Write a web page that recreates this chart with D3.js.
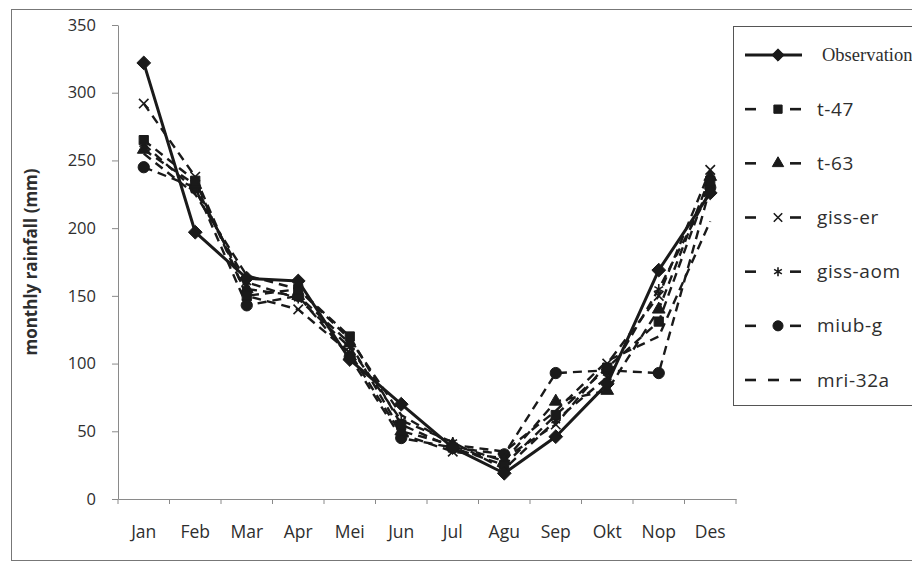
<!DOCTYPE html>
<html>
<head>
<meta charset="utf-8">
<script src="https://cdn.jsdelivr.net/npm/d3@7"></script>
<style>
  html, body { margin: 0; padding: 0; background: #fff; }
  svg { display: block; }
</style>
</head>
<body>
<svg id="chart" width="912" height="567"></svg>
<script>
// Monthly rainfall (mm): observed and modelled series
const months = ["Jan", "Feb", "Mar", "Apr", "Mei", "Jun", "Jul", "Agu", "Sep", "Okt", "Nop", "Des"];
const yTicks = [0, 50, 100, 150, 200, 250, 300, 350];

const observation = [322, 197, 163, 161, 103, 70, 38, 19, 46, 85, 169, 226];
const t47        = [265, 235, 150, 155, 120, 55, 38, 25, 62, 97, 131, 235];
const t63        = [258, 232, 155, 150, 115, 50, 40, 28, 72, 80, 140, 238];
const gissEr     = [292, 238, 150, 140, 108, 48, 35, 30, 55, 100, 150, 243];
const gissAom    = [262, 228, 160, 148, 112, 58, 42, 22, 58, 90, 155, 228];
const miubG      = [245, 230, 143, 150, 105, 45, 38, 33, 93, 95, 93, 230];
const mri32a     = [255, 225, 165, 155, 118, 62, 40, 35, 65, 102, 120, 205];

const seriesNames = ["Observation", "t-47", "t-63", "giss-er", "giss-aom", "miub-g", "mri-32a"];

// Diamond drawn as a square turned by 45 degrees
const diamond = { draw(ctx, size) { const r = Math.sqrt(size / 2); ctx.moveTo(0, -r); ctx.lineTo(r, 0); ctx.lineTo(0, r); ctx.lineTo(-r, 0); ctx.closePath(); } };

const series = [
  { name: seriesNames[0], values: observation, symbol: diamond,          size: 95,  stroke: false, dash: null,  width: 3 },
  { name: seriesNames[1], values: t47,         symbol: d3.symbolSquare,   size: 85,  stroke: false, dash: "9,6", width: 2.4 },
  { name: seriesNames[2], values: t63,         symbol: d3.symbolTriangle, size: 70,  stroke: false, dash: "9,6", width: 2.4 },
  { name: seriesNames[3], values: gissEr,      symbol: d3.symbolX,        size: 60,  stroke: true,  dash: "9,6", width: 2.4 },
  { name: seriesNames[4], values: gissAom,     symbol: d3.symbolAsterisk, size: 70,  stroke: true,  dash: "9,6", width: 2.4 },
  { name: seriesNames[5], values: miubG,       symbol: d3.symbolCircle,   size: 100, stroke: false, dash: "9,6", width: 2.4 },
  { name: seriesNames[6], values: mri32a,      symbol: null,              size: 0,   stroke: false, dash: "9,6", width: 2.4 }
];

const ink = "#1a1a1a";
const axisColor = "#8a8a8a";
const textColor = "#2e2e2e";
const sansFont = "'Open Sans', Lato, sans-serif";

const svg = d3.select("#chart");

// Outer frame
svg.append("rect")
  .attr("x", 11.5).attr("y", 9.5)
  .attr("width", 912).attr("height", 551)
  .attr("fill", "none").attr("stroke", "#777").attr("stroke-width", 1);

const x = d3.scaleBand().domain(months).range([118, 736]).padding(0);
const y = d3.scaleLinear().domain([0, 350]).range([499, 25]);

// Y axis
const yAxis = svg.append("g")
  .attr("transform", "translate(118,0)")
  .call(d3.axisLeft(y).tickValues(yTicks).tickSize(6).tickSizeOuter(0).tickPadding(16));
yAxis.select(".domain").attr("stroke", axisColor);
yAxis.selectAll(".tick line").attr("stroke", axisColor);
yAxis.selectAll(".tick text")
  .attr("fill", textColor)
  .style("font-family", sansFont)
  .style("font-size", "16.5px");

// X axis: labels centred in each month band, tick marks on band edges
const xAxis = svg.append("g")
  .attr("transform", `translate(0,${y(0)})`)
  .call(d3.axisBottom(x).tickSize(0).tickPadding(27));
xAxis.select(".domain").attr("stroke", axisColor);
xAxis.selectAll(".tick text")
  .attr("fill", textColor)
  .style("font-family", sansFont)
  .style("font-size", "17.5px");

const edges = months.map(m => x(m)).concat([x(months[months.length - 1]) + x.bandwidth()]);
xAxis.selectAll("line.edge")
  .data(edges)
  .join("line")
  .attr("class", "edge")
  .attr("x1", d => d).attr("x2", d => d)
  .attr("y1", 0).attr("y2", 5)
  .attr("stroke", axisColor);

// Y axis title
svg.append("text")
  .attr("transform", `translate(37,${(y(0) + y(350)) / 2}) rotate(-90)`)
  .attr("text-anchor", "middle")
  .attr("fill", textColor)
  .style("font-family", sansFont)
  .style("font-size", "17px")
  .style("font-weight", "bold")
  .text("monthly rainfall (mm)");

// Series lines and markers (drawn back to front so observation sits on top)
const line = d3.line()
  .x((d, i) => x(months[i]) + x.bandwidth() / 2)
  .y(d => y(d));

const plot = svg.append("g");
series.slice().reverse().forEach(s => {
  const g = plot.append("g");
  g.append("path")
    .datum(s.values)
    .attr("d", line)
    .attr("fill", "none")
    .attr("stroke", ink)
    .attr("stroke-width", s.width)
    .attr("stroke-dasharray", s.dash)
    .attr("stroke-linejoin", "round");
  if (s.symbol) {
    g.selectAll("path.mark")
      .data(s.values)
      .join("path")
      .attr("class", "mark")
      .attr("transform", (d, i) => `translate(${x(months[i]) + x.bandwidth() / 2},${y(d)})`)
      .attr("d", d3.symbol(s.symbol, s.size))
      .attr("fill", s.stroke ? "none" : ink)
      .attr("stroke", ink)
      .attr("stroke-width", s.stroke ? 1.6 : 1);
  }
});

// Legend
const legend = svg.append("g");
legend.append("rect")
  .attr("x", 733.5).attr("y", 26.5)
  .attr("width", 200).attr("height", 379)
  .attr("fill", "#fff").attr("stroke", "#555").attr("stroke-width", 1);

const rowY = d3.scaleLinear().domain([0, 6]).range([55, 380]);
series.forEach((s, i) => {
  const cy = rowY(i);
  const row = legend.append("g");
  if (s.dash) {
    const dashes = s.symbol ? [[745, 756], [790, 801]] : [[745, 756], [768, 779], [790, 801]];
    dashes.forEach(([a, b]) => {
      row.append("line")
        .attr("x1", a).attr("x2", b).attr("y1", cy).attr("y2", cy)
        .attr("stroke", ink).attr("stroke-width", 2.6);
    });
  } else {
    row.append("line")
      .attr("x1", 745).attr("x2", 802).attr("y1", cy).attr("y2", cy)
      .attr("stroke", ink).attr("stroke-width", 3);
  }
  if (s.symbol) {
    row.append("path")
      .attr("transform", `translate(778,${cy})`)
      .attr("d", d3.symbol(s.symbol, s.size * 0.8))
      .attr("fill", s.stroke ? "none" : ink)
      .attr("stroke", ink)
      .attr("stroke-width", s.stroke ? 1.6 : 1);
  }
  const isObs = i === 0;
  row.append("text")
    .attr("x", isObs ? 822 : 817)
    .attr("y", cy)
    .attr("dy", "0.35em")
    .attr("fill", textColor)
    .style("font-family", isObs ? "'Liberation Serif', 'DejaVu Serif', serif" : sansFont)
    .style("font-size", isObs ? "18.5px" : "19px")
    .style("letter-spacing", isObs ? null : "0.6px")
    .text(s.name);
});
</script>
</body>
</html>
